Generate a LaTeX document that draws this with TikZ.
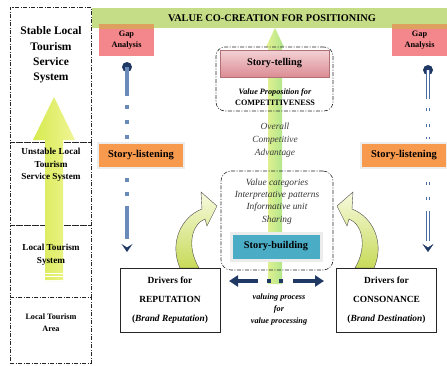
\documentclass[tikz,border=0pt]{standalone}
\usepackage{fontspec}
\setmainfont{Liberation Serif}
\usetikzlibrary{arrows.meta}

\definecolor{bannergreen}{HTML}{C5DD86}
\definecolor{gappink}{HTML}{F4878B}
\definecolor{gapstrip}{HTML}{DDA05E}
\definecolor{listenorange}{HTML}{F79A4E}
\definecolor{buildblue}{HTML}{4BACC6}
\definecolor{navy}{HTML}{1F3864}
\definecolor{steel}{HTML}{6A8BBA}
\definecolor{steeldark}{HTML}{4A6EA3}
\definecolor{growL}{HTML}{D6EA4E}
\definecolor{growR}{HTML}{F0F596}
\definecolor{shaftL}{HTML}{E4F190}
\definecolor{shaftR}{HTML}{AEE58C}
\definecolor{tellTop}{HTML}{F3D2D5}
\definecolor{tellBot}{HTML}{DB8C93}
\definecolor{curlTop}{HTML}{F7FADF}
\definecolor{curlBot}{HTML}{C8DA58}

\tikzset{
  dashdot/.style={draw=black!85, line width=0.6pt,
    dash pattern=on 4pt off 1.5pt on 1pt off 1.5pt},
  boxat/.style={rectangle, inner sep=0pt, outer sep=0pt, anchor=north west},
  lvlbox/.style={boxat, dashdot, minimum width=81pt},
  groupbox/.style={boxat, dashdot, rounded corners=9pt},
  gapbox/.style={rectangle, fill=gappink, minimum width=55pt, minimum height=32pt,
    inner sep=0pt, align=center, font=\bfseries\fontsize{8.3}{10.5}\selectfont,
    path picture={\fill[gapstrip] (path picture bounding box.north west)
      rectangle ([yshift=-5pt]path picture bounding box.north east);}},
  listenbox/.style={rectangle, fill=listenorange, draw=gray!14, line width=2.5pt,
    minimum width=86pt, minimum height=25pt, inner sep=0pt,
    font=\bfseries\fontsize{10.5}{12}\selectfont},
  driverbox/.style={rectangle, draw=black!85, line width=0.7pt, fill=white,
    minimum width=100pt, minimum height=64pt, inner sep=0pt, align=center,
    font=\bfseries\fontsize{9.4}{19}\selectfont},
  ball/.style={circle, fill=navy, minimum size=10pt, inner sep=0pt},
  stem/.style={draw=steel, line width=3.4pt},
  twinstem/.style={draw=steeldark, line width=0.9pt, double=white, double distance=1.6pt},
  chevron/.style={-{Stealth[color=navy, length=8pt, width=11pt, inset=3.5pt]}},
  curl/.style={top color=curlTop, bottom color=curlBot, draw=black!70, line width=0.4pt}
}

\begin{document}
\begin{tikzpicture}[x=1pt, y=-1pt]
\useasboundingbox (0,0) rectangle (447,365);

% ---------- levels of the local tourism system ----------
\node[lvlbox, minimum height=135pt] (lvA) at (10,7) {};
\node[lvlbox, minimum height=83pt]  (lvB) at (10,142) {};
\node[lvlbox, minimum height=72pt]  (lvC) at (10,225) {};
\node[lvlbox, minimum height=66pt]  (lvD) at (10,297) {};

% upward growth arrow
\shade[left color=growL, right color=growR]
  (45,281) -- (45,140) -- (33,140) -- (54,97) -- (75,140) -- (63,140) -- (63,281) -- cycle;
\foreach \yy in {273,276.5,280}
  \draw[white, line width=0.8pt] (45,\yy) -- (63,\yy);

\node[align=center, font=\bfseries\fontsize{11.5}{15.3}\selectfont] (tA) at (51,55)
  {Stable Local\\Tourism\\Service\\System};
\node[align=center, font=\bfseries\fontsize{9.2}{12.5}\selectfont] (tB) at (51,165)
  {Unstable Local\\Tourism\\Service System};
\node[align=center, font=\bfseries\fontsize{9.2}{13}\selectfont] (tC) at (51,254.5)
  {Local Tourism\\System};
\node[align=center, font=\bfseries\fontsize{8.2}{12}\selectfont] (tD) at (51,323)
  {Local Tourism\\Area};

% ---------- banner ----------
\node[boxat, fill=bannergreen, minimum width=355pt, minimum height=20pt,
  font=\bfseries\fontsize{10.3}{12}\selectfont] (banner) at (92,8)
  {\hspace*{5pt}VALUE CO-CREATION FOR POSITIONING};

% ---------- central value shaft ----------
\shade[left color=shaftL, right color=shaftR]
  (268,284) -- (268,47) -- (266,47) -- (275,28) -- (284,47) -- (282,47) -- (282,284) -- cycle;

% story-telling group
\node[groupbox, minimum width=117pt, minimum height=64pt] (tellgrp) at (216,47) {};
\node[boxat, top color=tellTop, bottom color=tellBot, draw=tellBot!80!black, line width=0.3pt,
  minimum width=109pt, minimum height=27pt,
  font=\bfseries\fontsize{10.3}{12}\selectfont] (tell) at (220,50) {Story-telling};
\node[align=center, font=\bfseries\fontsize{8.2}{11}\selectfont] (vprop) at (275,97.5)
  {\textit{Value Proposition for}\\COMPETITIVENESS};

\node[align=center, text=black!75, font=\itshape\fontsize{9.4}{13}\selectfont] (adv) at (275,140)
  {Overall\\Competitive\\Advantage};

% story-building group
\node[groupbox, rounded corners=10pt, minimum width=112pt, minimum height=99pt] (buildgrp) at (221,171) {};
\node[align=center, text=black!80, font=\itshape\fontsize{9.4}{12.3}\selectfont] (cats) at (277,201.5)
  {Value categories\\Interpretative patterns\\Informative unit\\Sharing};
\node[rectangle, fill=buildblue, draw=gray!15, line width=3pt, minimum width=90pt, minimum height=27pt,
  inner sep=0pt, font=\bfseries\fontsize{10.3}{12}\selectfont] (build) at (276,246.5) {Story-building};

% valuing process
\coordinate (vL) at (229,281);
\coordinate (vR) at (324,281);
\draw[navy, line width=3.2pt,
  {Triangle[length=9pt, width=11pt]}-{Triangle[length=9pt, width=11pt]},
  dash pattern=on 21pt off 9pt on 4pt off 8pt on 4pt off 10pt on 80pt] (vL) -- (vR);
\node[align=center, font=\bfseries\itshape\fontsize{8.2}{12}\selectfont] (proc) at (279,310)
  {valuing process\\for\\value processing};

% ---------- curved feedback arrows ----------
\def\curlpath{(180,268) .. controls (169,243) and (181,217) .. (202,209)
  -- (201,192) -- (217,206) -- (207,226) -- (205,219)
  .. controls (192,224) and (186,246) .. (199,268) -- cycle}
\shadedraw[curl] \curlpath;
\begin{scope}[shift={(554,0)}, xscale=-1]
\shadedraw[curl] \curlpath;
\end{scope}

% ---------- drivers ----------
\node[driverbox] (drvL) at (170,300)
  {Drivers for\\REPUTATION\\(\textit{Brand Reputation})};
\node[driverbox] (drvR) at (386.5,300)
  {Drivers for\\CONSONANCE\\(\textit{Brand Destination})};

% ---------- gap analysis and story-listening, left ----------
\node[gapbox] (gapL) at (126.5,40) {Gap\\Analysis};
\node[ball] (bL) at (127,67) {};
\node[listenbox] (listL) at (141,155.5) {Story-listening};
\coordinate (dL) at (127,252);
\draw[stem, dash pattern=on 29pt off 9pt on 4pt off 11pt on 4pt off 11pt on 4pt off 40pt]
  (bL.center) -- (bL.center |- listL.north);
\draw[stem, chevron, shorten <=9pt,
  dash pattern=on 4pt off 10pt on 4pt off 10pt on 33pt off 60pt]
  (bL.center |- listL.south) -- (dL);

% ---------- gap analysis and story-listening, right ----------
\node[gapbox] (gapR) at (419.5,40) {Gap\\Analysis};
\node[ball] (bR) at (428,70) {};
\node[listenbox] (listR) at (404,155.5) {Story-listening};
\coordinate (dR) at (428,252);
\draw[twinstem, dash pattern=on 29pt off 9pt on 3pt off 13pt on 3pt off 10pt on 2pt off 40pt]
  (bR.center) -- (bR.center |- listR.north);
\draw[twinstem, shorten <=13pt,
  dash pattern=on 3pt off 12pt on 3pt off 11pt on 30pt off 60pt]
  (bR.center |- listR.south) -- (dR);
\draw[line width=0.4pt, dash pattern=on 0pt off 400pt, chevron]
  (bR.center |- listR.south) -- (dR);

\end{tikzpicture}
\end{document}
